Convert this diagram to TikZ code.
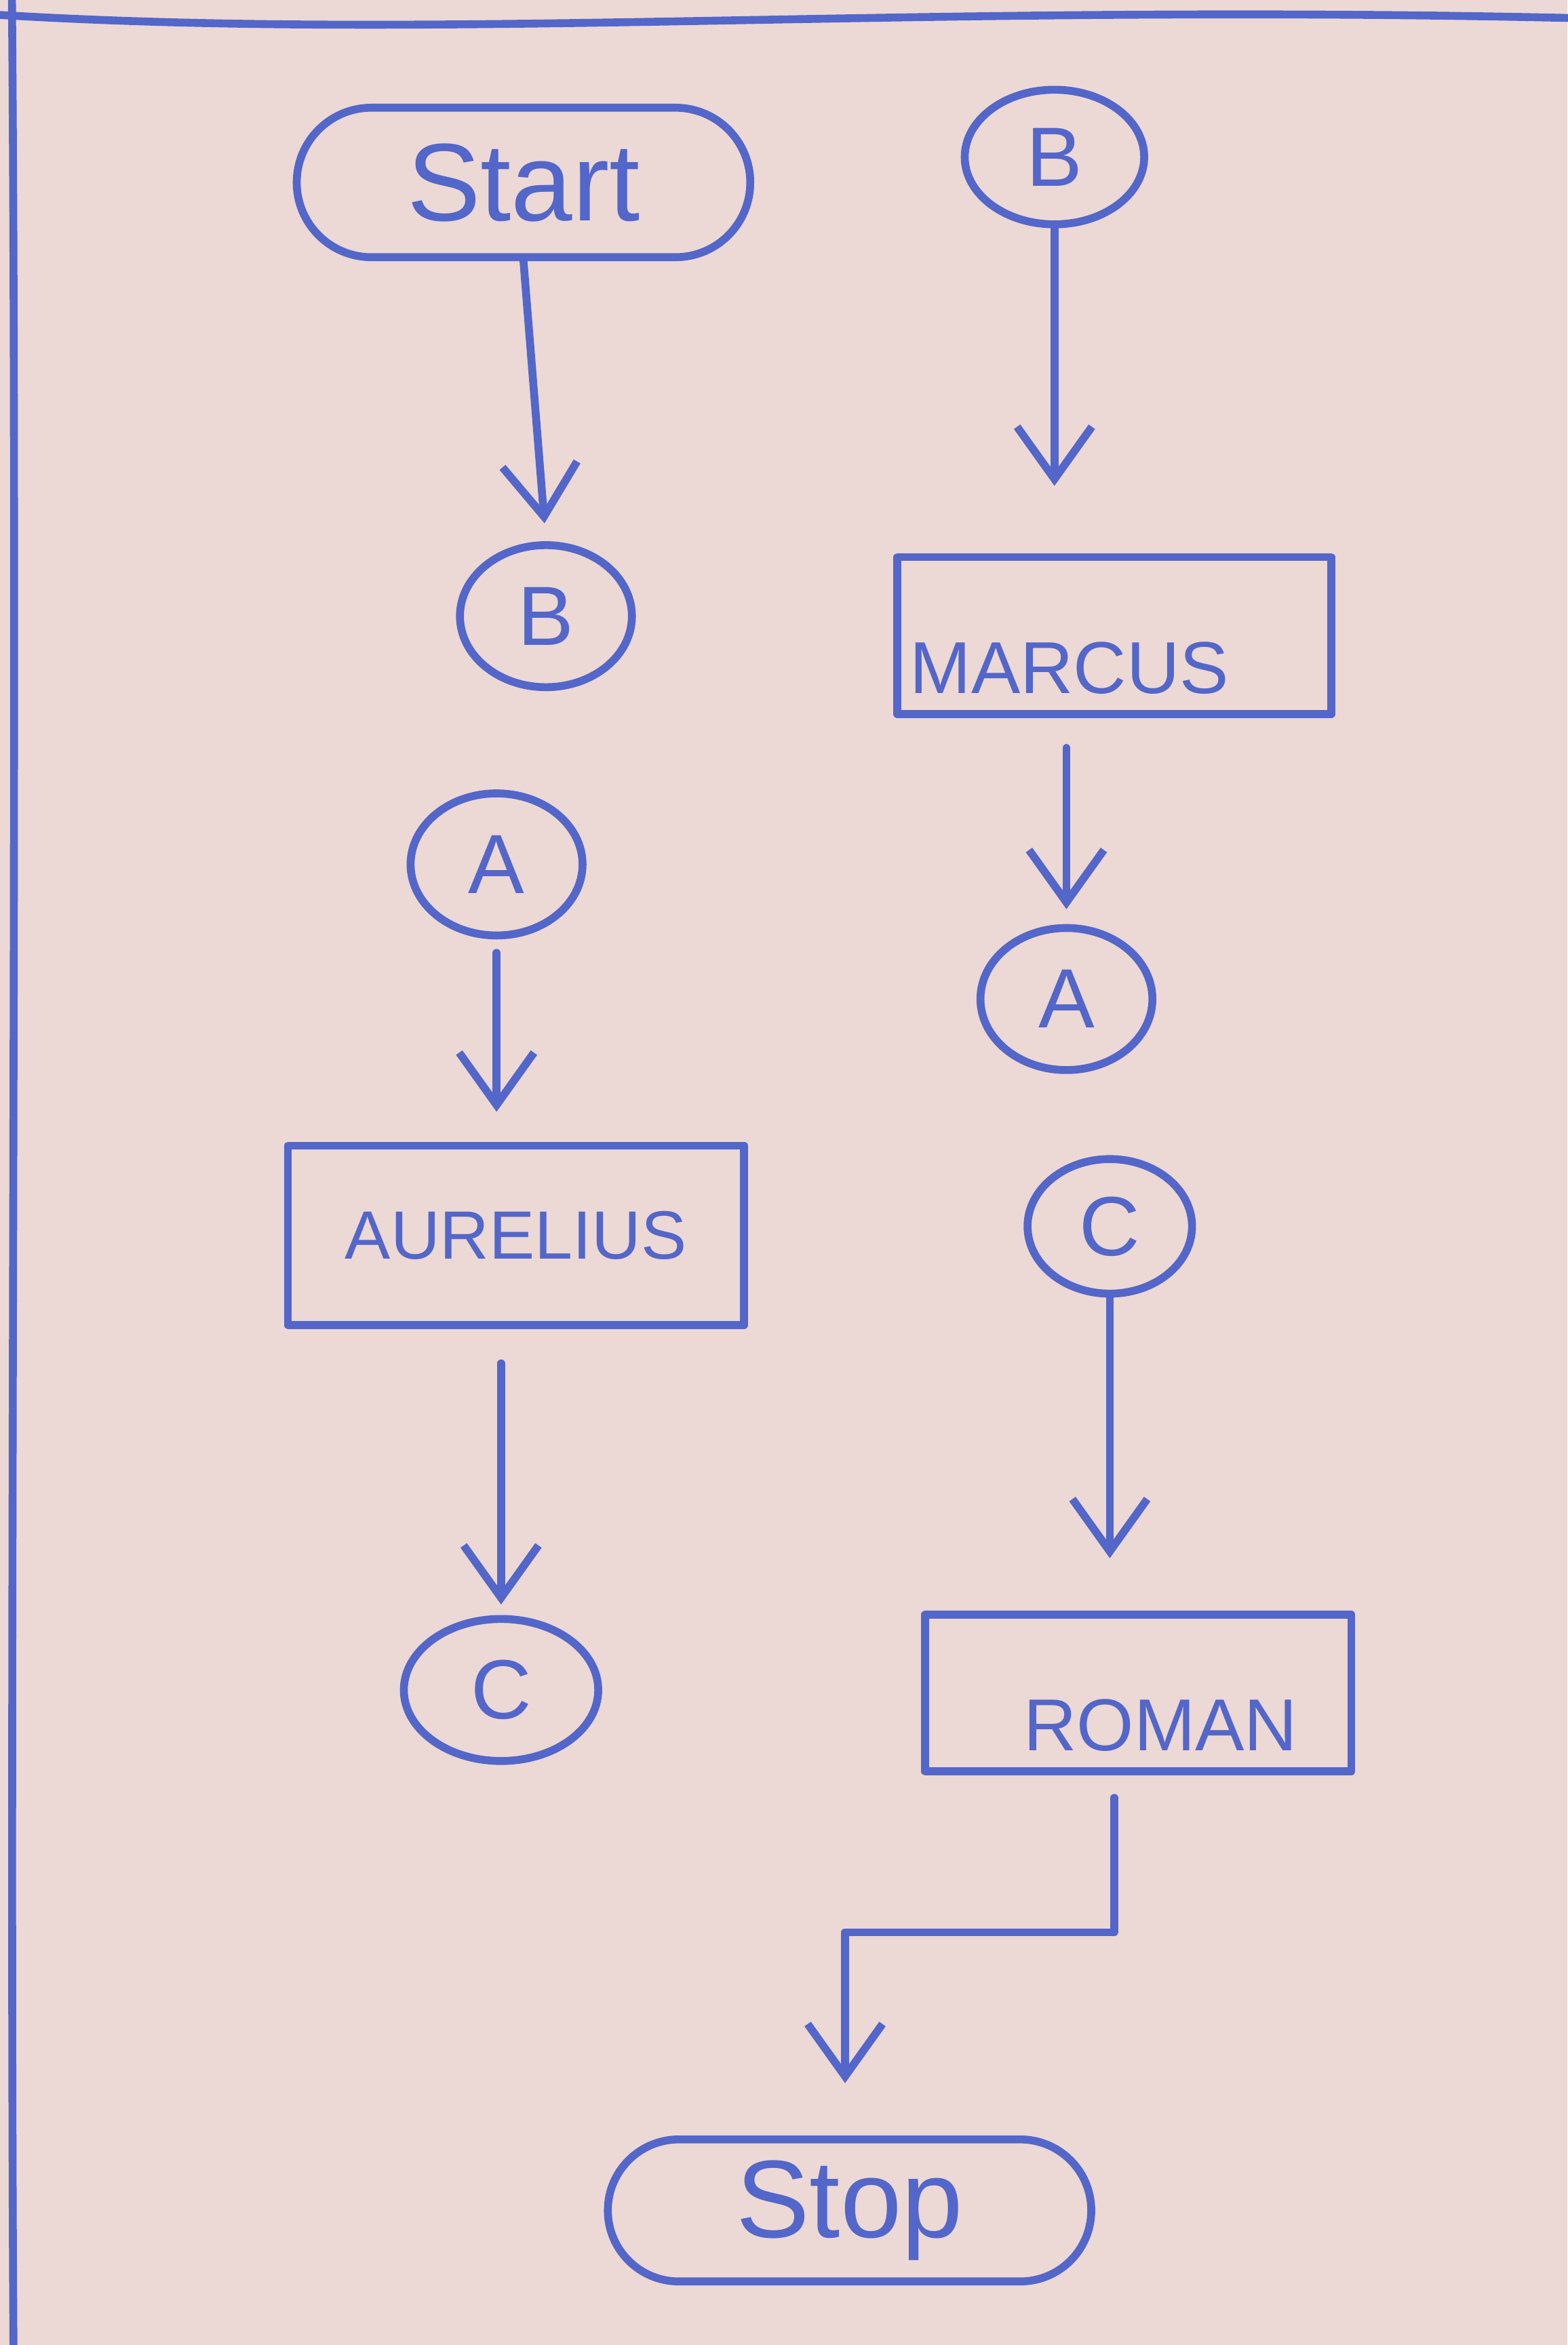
\documentclass[tikz,border=0pt]{standalone}
\usepackage{fontspec}
\setmainfont{Liberation Sans}
\usetikzlibrary{shapes.geometric,shapes.misc,arrows.meta}
\definecolor{paper}{HTML}{ECD8D5}
\definecolor{pen}{HTML}{5366C9}
\tikzset{
	ink/.style={draw=pen,line width=3pt,line join=round,line cap=round},
	term/.style={ink,rounded rectangle,minimum width=6.3cm,minimum height=2cm,
		text=pen,font=\fontsize{42}{48}\selectfont},
	conn/.style={ink,ellipse,minimum width=2.3cm,minimum height=1.9cm,
		inner sep=0pt,text=pen,font=\fontsize{32}{38}\selectfont},
	proc/.style={ink,rectangle,minimum width=5.8cm,minimum height=2.1cm,
		text=pen,font=\fontsize{28}{32}\selectfont},
	low/.style={text height=1.55cm,text depth=0pt},
	flow/.style={ink,-{Straight Barb[length=7mm,width=10mm,line width=3pt]}}
}
\begin{document}
\begin{tikzpicture}[x=0.02cm,y=-0.02cm]
	% paper and frame
	\fill[paper] (0,0) rectangle (1048,1568);
	\useasboundingbox (0,0) rectangle (1048,1568);
	\draw[ink] (0,10) .. controls (300,28) and (600,2) .. (1048,12);
	\draw[ink] (8,0) .. controls (12,500) and (6,1100) .. (9,1568);
	% left column
	\node[term] (start) at (350,122) {Start};
	\node[conn] (conB2) at (365,412) {B};
	\node[conn] (conA1) at (332,578) {A};
	\node[proc,minimum width=6.1cm,minimum height=2.4cm,
		font=\fontsize{26}{30}\selectfont] (aurelius) at (345,826) {AURELIUS};
	\node[conn,minimum width=2.6cm] (conC1) at (335,1130) {C};
	% right column
	\node[conn,minimum width=2.4cm,minimum height=1.8cm] (conB1) at (705,105) {B};
	\node[proc,low] (marcus) at (745,425) {\hspace*{-1.2cm}MARCUS};
	\node[conn] (conA2) at (713,668) {A};
	\node[conn,minimum width=2.2cm,minimum height=1.8cm] (conC2) at (742,820) {C};
	\node[proc,low,minimum width=5.7cm] (roman) at (761,1132) {\hspace*{0.6cm}ROMAN};
	\node[term,minimum width=6.7cm,minimum height=1.9cm] (stop) at (568,1478) {Stop};
	\coordinate (bend) at (565,1292);
	% connectors
	\draw[flow,shorten >=0.24cm] (start.south) -- (conB2.north);
	\draw[flow,shorten >=0.9cm] (conB1.south) -- (conB1.south |- marcus.north);
	\draw[flow,shorten <=0.4cm,shorten >=0.2cm] (conA2.north |- marcus.south) -- (conA2.north);
	\draw[flow,shorten <=0.18cm,shorten >=0.4cm] (conA1.south) -- (conA1.south |- aurelius.north);
	\draw[flow,shorten <=0.46cm,shorten >=0.14cm] (conC1.north |- aurelius.south) -- (conC1.north);
	\draw[flow,shorten >=0.7cm] (conC2.south) -- (conC2.south |- roman.north);
	\draw[flow,shorten <=0.3cm,shorten >=0.7cm] ([xshift=-0.32cm]roman.south) |- (bend) -- (bend |- stop.north);
\end{tikzpicture}
\end{document}
